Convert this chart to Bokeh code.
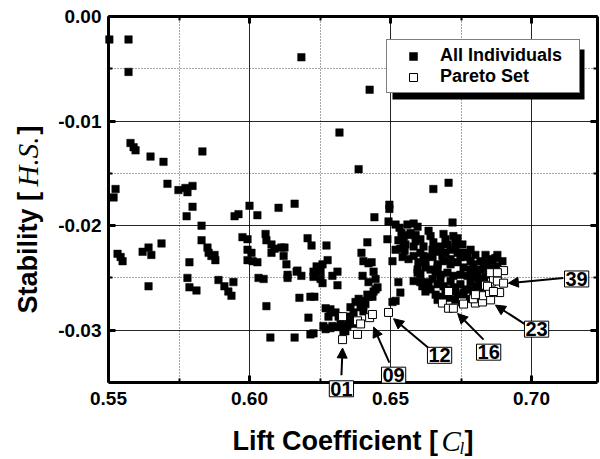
from bokeh.plotting import figure
from bokeh.models import (Range1d, FixedTicker, NumeralTickFormatter, LinearAxis, Label, Grid,
                          Arrow, NormalHead, BoxAnnotation, Legend, LegendItem, ColumnDataSource)
from bokeh.embed import file_html
from bokeh.resources import INLINE
import math

# ---------------- data ----------------
all_cl = [0.5503, 0.5571, 0.5571, 0.5578, 0.5589, 0.5596, 0.5649, 0.5695, 0.5833, 0.5709,
          0.5748, 0.5773, 0.5780, 0.5798, 0.5798, 0.5777, 0.5830, 0.5525, 0.5518, 0.5947,
          0.5961, 0.6000, 0.6028, 0.6103, 0.6160, 0.6184, 0.6426, 0.6319, 0.6387, 0.6652,
          0.6706, 0.6496, 0.6496, 0.6443, 0.6493, 0.6518, 0.6532, 0.6582, 0.6596, 0.6720,
          0.5532, 0.5543, 0.5550, 0.5621, 0.5642, 0.5652, 0.5688, 0.5642, 0.5830, 0.5851,
          0.5855, 0.5865, 0.5876, 0.5879, 0.5787, 0.5780, 0.5787, 0.5812, 0.5890, 0.5911,
          0.5925, 0.5936, 0.5943, 0.5975, 0.5993, 0.5993, 0.6007, 0.5993, 0.6011, 0.6028,
          0.6032, 0.6050, 0.6057, 0.6060, 0.6078, 0.6078, 0.6089, 0.6113, 0.6124, 0.6121,
          0.6131, 0.6135, 0.6135, 0.6167, 0.6177, 0.6060, 0.6074, 0.6160,
          0.6206, 0.6220, 0.6273, 0.6277, 0.6238, 0.6259, 0.6252, 0.6227, 0.6170, 0.6184,
          0.6312, 0.6294, 0.6397, 0.6418, 0.6404, 0.6422, 0.6227, 0.6252, 0.6259, 0.6312,
          0.6216, 0.6230, 0.6209, 0.6216, 0.6227, 0.6270, 0.6280, 0.6305, 0.6270, 0.6287,
          0.6312, 0.6323, 0.6340, 0.6358, 0.6376, 0.6387, 0.6418, 0.6422, 0.6411, 0.6369,
          0.6287, 0.6316, 0.6262, 0.6294, 0.6347, 0.6333, 0.6365, 0.6394, 0.6401, 0.6436,
          0.6440, 0.6454, 0.6447, 0.6401, 0.6440, 0.6404, 0.6358, 0.6351,
          0.6546, 0.6589, 0.6567, 0.6688, 0.6723, 0.6738, 0.6489, 0.6642, 0.6617, 0.6649,
          0.6677, 0.6713, 0.6684, 0.6617, 0.6649, 0.6759, 0.6766, 0.6535, 0.6550, 0.6433,
          0.6507, 0.6624, 0.6667, 0.6596, 0.6582, 0.6613, 0.6631, 0.6528, 0.6535, 0.6518,
          0.6507, 0.6447, 0.6422,
          0.6560, 0.6571, 0.6539, 0.6730, 0.6702, 0.6652, 0.6670, 0.6695, 0.6738, 0.6773,
          0.6819, 0.6855, 0.6844, 0.6830, 0.6794, 0.6784, 0.6759, 0.6738, 0.6713, 0.6688,
          0.6667, 0.6660, 0.6677, 0.6702, 0.6723, 0.6748, 0.6773, 0.6794, 0.6819, 0.6837,
          0.6649, 0.6642, 0.6660, 0.6684, 0.6706, 0.6738, 0.6759, 0.6784, 0.6808, 0.6826,
          0.6794, 0.6773, 0.6748, 0.6723, 0.6688, 0.6667, 0.6635, 0.6606, 0.6596, 0.6599,
          0.6624, 0.6606, 0.6582, 0.6564, 0.6582, 0.6546, 0.6518, 0.6543, 0.6837, 0.6862,
          0.6847, 0.6808, 0.6879,
          0.6660, 0.6695, 0.6730, 0.6755, 0.6784, 0.6801, 0.6837, 0.6872, 0.6677, 0.6713,
          0.6748, 0.6784, 0.6812, 0.6847, 0.6695, 0.6730, 0.6766, 0.6642, 0.6713, 0.6748,
          0.6784, 0.6819, 0.6855, 0.6624, 0.6606, 0.6624, 0.6667, 0.6730, 0.6897, 0.6879,
          0.6553, 0.6589, 0.6606, 0.6635, 0.6528]
all_hs = [-0.0022, -0.0022, -0.0053, -0.0121, -0.0125, -0.0128, -0.0134, -0.0139, -0.0129, -0.0160,
          -0.0166, -0.0164, -0.0168, -0.0162, -0.0182, -0.0191, -0.0200, -0.0165, -0.0173, -0.0191,
          -0.0189, -0.0181, -0.0190, -0.0183, -0.0179, -0.0039, -0.0070, -0.0111, -0.0146, -0.0165,
          -0.0159, -0.0180, -0.0184, -0.0192, -0.0196, -0.0199, -0.0202, -0.0198, -0.0201, -0.0197,
          -0.0227, -0.0230, -0.0234, -0.0225, -0.0221, -0.0228, -0.0217, -0.0258, -0.0214, -0.0221,
          -0.0226, -0.0229, -0.0228, -0.0233, -0.0235, -0.0250, -0.0259, -0.0262, -0.0252, -0.0258,
          -0.0263, -0.0267, -0.0254, -0.0211, -0.0213, -0.0223, -0.0226, -0.0233, -0.0234, -0.0235,
          -0.0250, -0.0251, -0.0208, -0.0214, -0.0218, -0.0226, -0.0222, -0.0221, -0.0221, -0.0229,
          -0.0237, -0.0247, -0.0250, -0.0244, -0.0269, -0.0277, -0.0307, -0.0307,
          -0.0212, -0.0219, -0.0219, -0.0233, -0.0239, -0.0237, -0.0244, -0.0244, -0.0243, -0.0248,
          -0.0244, -0.0248, -0.0226, -0.0216, -0.0234, -0.0236, -0.0249, -0.0251, -0.0255, -0.0257,
          -0.0268, -0.0268, -0.0288, -0.0304, -0.0303, -0.0279, -0.0287, -0.0283, -0.0299, -0.0298,
          -0.0297, -0.0294, -0.0301, -0.0278, -0.0273, -0.0270, -0.0266, -0.0254, -0.0275, -0.0283,
          -0.0280, -0.0287, -0.0296, -0.0296, -0.0296, -0.0301, -0.0294, -0.0278, -0.0272, -0.0268,
          -0.0263, -0.0259, -0.0251, -0.0248, -0.0244, -0.0282, -0.0287, -0.0291,
          -0.0210, -0.0209, -0.0209, -0.0208, -0.0210, -0.0212, -0.0213, -0.0210, -0.0220, -0.0223,
          -0.0220, -0.0223, -0.0229, -0.0229, -0.0230, -0.0226, -0.0230, -0.0222, -0.0224, -0.0235,
          -0.0234, -0.0240, -0.0240, -0.0245, -0.0253, -0.0258, -0.0254, -0.0254, -0.0264, -0.0272,
          -0.0273, -0.0261, -0.0268,
          -0.0199, -0.0207, -0.0207, -0.0215, -0.0218, -0.0216, -0.0225, -0.0226, -0.0226, -0.0228,
          -0.0234, -0.0232, -0.0235, -0.0239, -0.0237, -0.0242, -0.0240, -0.0235, -0.0237, -0.0234,
          -0.0237, -0.0244, -0.0247, -0.0245, -0.0248, -0.0247, -0.0248, -0.0249, -0.0251, -0.0249,
          -0.0251, -0.0261, -0.0266, -0.0268, -0.0269, -0.0266, -0.0264, -0.0261, -0.0258, -0.0259,
          -0.0264, -0.0270, -0.0270, -0.0259, -0.0258, -0.0256, -0.0256, -0.0247, -0.0242, -0.0235,
          -0.0230, -0.0226, -0.0229, -0.0232, -0.0220, -0.0216, -0.0223, -0.0230, -0.0240, -0.0237,
          -0.0244, -0.0244, -0.0239,
          -0.0223, -0.0213, -0.0221, -0.0218, -0.0223, -0.0228, -0.0228, -0.0231, -0.0251, -0.0253,
          -0.0256, -0.0254, -0.0251, -0.0253, -0.0261, -0.0263, -0.0261, -0.0242, -0.0232, -0.0230,
          -0.0234, -0.0242, -0.0240, -0.0234, -0.0254, -0.0263, -0.0271, -0.0271, -0.0234, -0.0228,
          -0.0218, -0.0215, -0.0213, -0.0205, -0.0214]

pareto_cl = [0.6330, 0.6330, 0.6383, 0.6394, 0.6383, 0.6426, 0.6436, 0.6493, 0.6684, 0.6706,
             0.6723, 0.6755, 0.6801, 0.6826, 0.6794, 0.6830, 0.6855, 0.6851, 0.6858, 0.6865,
             0.6879, 0.6887, 0.6901, 0.6901, 0.6855, 0.6879, 0.6837, 0.6706, 0.6844, 0.6801,
             0.6759, 0.6865]
pareto_hs = [-0.0309, -0.0287, -0.0291, -0.0294, -0.0304, -0.0288, -0.0285, -0.0283, -0.0274, -0.0279,
             -0.0279, -0.0273, -0.0274, -0.0273, -0.0270, -0.0267, -0.0271, -0.0264, -0.0254, -0.0251,
             -0.0253, -0.0264, -0.0255, -0.0243, -0.0245, -0.0245, -0.0257, -0.0263, -0.0258, -0.0266,
             -0.0275, -0.0263]

tag_names = ["01", "09", "12", "16", "23", "39"]

x_ticks = [0.55, 0.60, 0.65, 0.70]
x_minor = [0.575, 0.625, 0.675]
y_ticks = [-0.03, -0.02, -0.01, 0.00]
y_minor = [-0.025, -0.015, -0.005]
x_lo, x_hi = 0.55, 0.7234          # plotted box
y_lo, y_hi = -0.035, 0.0

# ---------------- positions of the annotations (data units) ----------------
tag_box_x = [0.6326, 0.6511, 0.6674, 0.6848, 0.7018, 0.7160]
tag_box_y = [-0.0356, -0.0343, -0.0324, -0.0321, -0.0299, -0.0251]
arrow_x0 = [0.6326, 0.6496, 0.6635, 0.6830, 0.6975, 0.7113]
arrow_y0 = [-0.0343, -0.0331, -0.0317, -0.0309, -0.0294, -0.0250]
arrow_x1 = [0.6330, 0.6440, 0.6511, 0.6738, 0.6872, 0.6918]
arrow_y1 = [-0.0317, -0.0297, -0.0289, -0.0284, -0.0276, -0.0255]

SANS = "Liberation Sans"
SERIF = "Liberation Serif"

# the frame fills the canvas; the visible box is drawn by axes at fixed locations
p = figure(width=600, height=459, x_range=Range1d(0.511702, 0.724468),
           y_range=Range1d(-0.042364, 0.001530),
           output_backend="svg", toolbar_location=None,
           x_axis_location=None, y_axis_location=None,
           min_border_left=0, min_border_right=0, min_border_top=0, min_border_bottom=0)
p.background_fill_color = "white"
p.border_fill_color = "white"
p.outline_line_color = None
for g in p.grid:
    g.visible = False

xt = FixedTicker(ticks=x_ticks, minor_ticks=x_minor)
yt = FixedTicker(ticks=y_ticks, minor_ticks=y_minor)

for dim, t, b, cb in [(0, xt, (x_lo, x_hi), (y_lo, y_hi)), (1, yt, (y_lo, y_hi), (x_lo, x_hi))]:
    g = Grid(dimension=dim, ticker=t, bounds=b, cross_bounds=cb,
             grid_line_color="black", grid_line_width=1, grid_line_alpha=0.85,
             minor_grid_line_color="black", minor_grid_line_dash="1 2",
             minor_grid_line_alpha=0.7, minor_grid_line_width=1)
    p.add_layout(g, "center")

bottom_axis = LinearAxis(ticker=xt, fixed_location=y_lo, bounds=(x_lo, x_hi),
                         formatter=NumeralTickFormatter(format="0.00"))
top_axis = LinearAxis(ticker=xt, fixed_location=y_hi, bounds=(x_lo, x_hi))
left_axis = LinearAxis(ticker=yt, fixed_location=x_lo, bounds=(y_lo, y_hi),
                       formatter=NumeralTickFormatter(format="0.00"))
right_axis = LinearAxis(ticker=yt, fixed_location=x_hi, bounds=(y_lo, y_hi))
p.add_layout(bottom_axis, "below")
p.add_layout(top_axis, "above")
p.add_layout(left_axis, "left")
p.add_layout(right_axis, "right")

for ax in [bottom_axis, top_axis, left_axis, right_axis]:
    ax.axis_line_width = 3
    ax.axis_line_color = "black"
    ax.major_tick_in = 7
    ax.major_tick_out = 0
    ax.major_tick_line_width = 3
    ax.minor_tick_in = 4
    ax.minor_tick_out = 0
    ax.minor_tick_line_width = 2
    ax.major_label_text_font = SANS
    ax.major_label_text_font_style = "bold"
    ax.major_label_text_font_size = "19px"
    ax.major_label_text_color = "black"

for ax in [top_axis, right_axis]:
    ax.major_label_text_color = None

bottom_axis.major_label_standoff = 10
left_axis.major_label_standoff = 7

src_all = ColumnDataSource(dict(x=all_cl, y=all_hs))
src_par = ColumnDataSource(dict(x=pareto_cl, y=pareto_hs))
r_all = p.scatter("x", "y", source=src_all, marker="square", size=7.5,
                  fill_color="black", line_color="black", line_width=0.5)
r_par = p.scatter("x", "y", source=src_par, marker="square", size=8,
                  fill_color="white", line_color="black", line_width=1)

# arrows and tag boxes
for i, name in enumerate(tag_names):
    p.add_layout(Arrow(end=NormalHead(size=10, fill_color="black", line_color="black"),
                       x_start=arrow_x0[i], y_start=arrow_y0[i],
                       x_end=arrow_x1[i], y_end=arrow_y1[i],
                       line_color="black", line_width=2))
for i, name in enumerate(tag_names):
    p.add_layout(Label(x=tag_box_x[i], y=tag_box_y[i], text=name,
                       text_align="center", text_baseline="middle",
                       text_font=SANS, text_font_size="20px", text_font_style="bold",
                       text_color="black", border_line_color="black", border_line_width=1,
                       background_fill_color="white", background_fill_alpha=1.0, padding=1))

# legend shadow + legend
p.add_layout(BoxAnnotation(left=0.6507, right=0.7188, top=-0.00316, bottom=-0.00794,
                           fill_color="black", fill_alpha=1.0, line_color=None))
legend = Legend(items=[LegendItem(label="All Individuals", renderers=[r_all]),
                       LegendItem(label="Pareto Set", renderers=[r_par])],
                location=(386, 366), margin=0, padding=5, spacing=0,
                glyph_width=42, glyph_height=20, label_height=20, label_width=134,
                label_standoff=6,
                label_text_font=SANS, label_text_font_style="bold", label_text_font_size="18px",
                label_text_color="black",
                border_line_color="black", border_line_width=1,
                background_fill_color="white", background_fill_alpha=1.0)
p.add_layout(legend)

# axis titles (mixed fonts), anchored at the middle of each text box
TS = "27px"
title_parts = [
    # x title
    dict(x=0.5940, y=-0.04060, text="Lift Coefficient [", font=SANS, style="bold", size=TS, angle=0),
    dict(x=0.6681, y=-0.04057, text="C", font=SERIF, style="italic", size="29px", angle=0),
    dict(x=0.6745, y=-0.04134, text="l", font=SERIF, style="italic", size="17px", angle=0),
    dict(x=0.6762, y=-0.04060, text="]", font=SANS, style="bold", size=TS, angle=0),
    # y title
    dict(x=0.5215, y=-0.0284, text="Stability [", font=SANS, style="bold", size=TS, angle=math.pi / 2),
    dict(x=0.5213, y=-0.01626, text="H.S.", font=SERIF, style="italic", size="29px", angle=math.pi / 2),
    dict(x=0.5215, y=-0.01128, text="]", font=SANS, style="bold", size=TS, angle=math.pi / 2),
]
for t in title_parts:
    p.add_layout(Label(x=t["x"], y=t["y"], text=t["text"], angle=t["angle"], text_align="left",
                       text_baseline="middle", text_font=t["font"], text_font_style=t["style"],
                       text_font_size=t["size"], text_color="black"))

open("out.html", "w").write(file_html(p, INLINE))
